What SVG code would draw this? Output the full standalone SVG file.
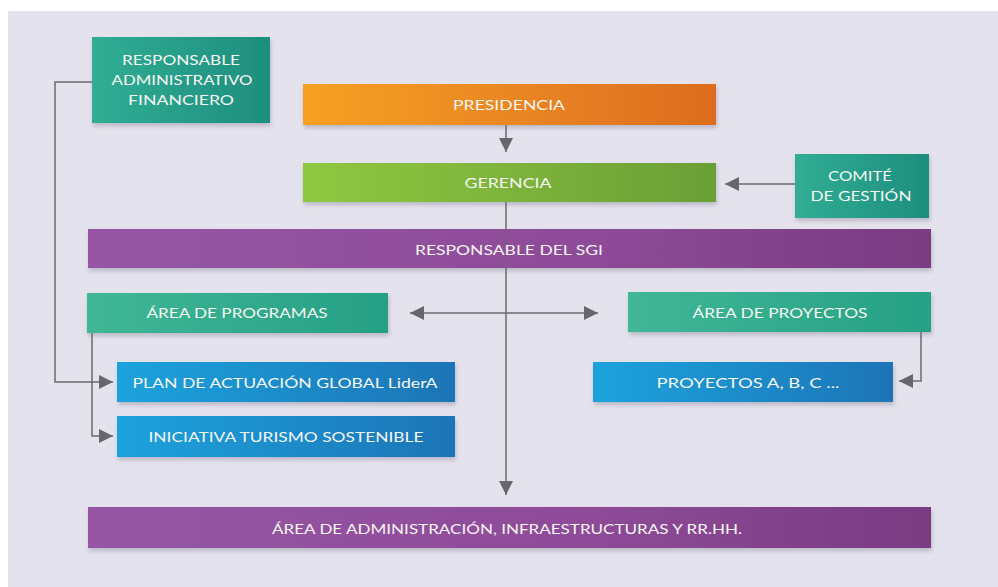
<svg xmlns="http://www.w3.org/2000/svg" width="998" height="587" viewBox="0 0 998 587">
<defs>
<linearGradient id="gTeal" x1="0" y1="0" x2="1" y2="0"><stop offset="0" stop-color="#31ad94"/><stop offset="1" stop-color="#1e8e7e"/></linearGradient>
<linearGradient id="gArea" x1="0" y1="0" x2="1" y2="0"><stop offset="0" stop-color="#40b796"/><stop offset="1" stop-color="#26a085"/></linearGradient>
<linearGradient id="gOrange" x1="0" y1="0" x2="1" y2="0"><stop offset="0" stop-color="#f6a123"/><stop offset="1" stop-color="#dd6c1f"/></linearGradient>
<linearGradient id="gGreen" x1="0" y1="0" x2="1" y2="0"><stop offset="0" stop-color="#8fc840"/><stop offset="1" stop-color="#6b9f36"/></linearGradient>
<linearGradient id="gPurple" x1="0" y1="0" x2="1" y2="0"><stop offset="0" stop-color="#9656a4"/><stop offset="0.6" stop-color="#8e4b98"/><stop offset="1" stop-color="#7a3b82"/></linearGradient>
<linearGradient id="gBlue" x1="0" y1="0" x2="1" y2="0"><stop offset="0" stop-color="#1ea3dd"/><stop offset="1" stop-color="#1a74b6"/></linearGradient>
<filter id="sh" x="-5%" y="-20%" width="110%" height="150%"><feDropShadow dx="1" dy="3" stdDeviation="2" flood-color="#6b6b80" flood-opacity="0.35"/></filter>
<marker id="ah" viewBox="0 0 10 10" refX="10" refY="5" markerWidth="14" markerHeight="14" markerUnits="userSpaceOnUse" orient="auto-start-reverse"><path d="M0,0 L10,5 L0,10 z" fill="#66666c"/></marker>
<style>
.t{font-family:"Lato","Open Sans","DejaVu Sans",sans-serif;font-size:14px;fill:#f6f6f2;text-anchor:middle;dominant-baseline:central}
.c{fill:none;stroke:#6a6a70;stroke-width:1.5}
</style>
</defs>
<rect x="0" y="0" width="998" height="587" fill="#ffffff"/>
<rect x="8" y="11" width="990" height="576" fill="#e4e2ec"/>

<g id="connectors">
<path class="c" d="M506,125 V152" marker-end="url(#ah)"/>
<path class="c" d="M795,184 H725" marker-end="url(#ah)"/>
<path class="c" d="M506,202 V495" marker-end="url(#ah)"/>
<path class="c" d="M410,313 H598" marker-start="url(#ah)" marker-end="url(#ah)"/>
<path class="c" d="M92,82 H55 V382 H113" marker-end="url(#ah)"/>
<path class="c" d="M92,333 V436 H113" marker-end="url(#ah)"/>
<path class="c" d="M921,332 V381 H899" marker-end="url(#ah)"/>
</g>

<g id="raf">
<rect x="92" y="37" width="178" height="86" fill="url(#gTeal)" filter="url(#sh)"/>
<text class="t" x="181" y="59" textLength="118" lengthAdjust="spacingAndGlyphs">RESPONSABLE</text>
<text class="t" x="182" y="79" textLength="141" lengthAdjust="spacingAndGlyphs">ADMINISTRATIVO</text>
<text class="t" x="181" y="99" textLength="106" lengthAdjust="spacingAndGlyphs">FINANCIERO</text>
</g>

<g id="presidencia">
<rect x="303" y="84" width="413" height="41" fill="url(#gOrange)" filter="url(#sh)"/>
<text class="t" x="509" y="104" textLength="112" lengthAdjust="spacingAndGlyphs">PRESIDENCIA</text>
</g>

<g id="gerencia">
<rect x="303" y="163" width="413" height="39" fill="url(#gGreen)" filter="url(#sh)"/>
<text class="t" x="508" y="182" textLength="87" lengthAdjust="spacingAndGlyphs">GERENCIA</text>
</g>

<g id="comite">
<rect x="795" y="154" width="134" height="64" fill="url(#gTeal)" filter="url(#sh)"/>
<text class="t" x="860" y="175" textLength="64" lengthAdjust="spacingAndGlyphs">COMITÉ</text>
<text class="t" x="861" y="195" textLength="101" lengthAdjust="spacingAndGlyphs">DE GESTIÓN</text>
</g>

<g id="sgi">
<rect x="88" y="229" width="843" height="39" fill="url(#gPurple)" filter="url(#sh)"/>
<path d="M506,229 V268" stroke="#6a6a70" stroke-width="1.2" opacity="0.6"/>
<text class="t" x="509" y="249" textLength="188" lengthAdjust="spacingAndGlyphs">RESPONSABLE DEL SGI</text>
</g>

<g id="area-programas">
<rect x="87" y="293" width="301" height="40" fill="url(#gArea)" filter="url(#sh)"/>
<text class="t" x="237" y="312" textLength="181" lengthAdjust="spacingAndGlyphs">ÁREA DE PROGRAMAS</text>
</g>

<g id="area-proyectos">
<rect x="628" y="292" width="303" height="40" fill="url(#gArea)" filter="url(#sh)"/>
<text class="t" x="780" y="312" textLength="175" lengthAdjust="spacingAndGlyphs">ÁREA DE PROYECTOS</text>
</g>

<g id="plan">
<rect x="117" y="362" width="338" height="40" fill="url(#gBlue)" filter="url(#sh)"/>
<text class="t" x="285" y="382" textLength="305" lengthAdjust="spacingAndGlyphs">PLAN DE ACTUACIÓN GLOBAL LiderA</text>
</g>

<g id="iniciativa">
<rect x="117" y="416" width="338" height="41" fill="url(#gBlue)" filter="url(#sh)"/>
<text class="t" x="286" y="436" textLength="275" lengthAdjust="spacingAndGlyphs">INICIATIVA TURISMO SOSTENIBLE</text>
</g>

<g id="proyectos">
<rect x="593" y="362" width="300" height="40" fill="url(#gBlue)" filter="url(#sh)"/>
<text class="t" x="748" y="382" textLength="183" lengthAdjust="spacingAndGlyphs">PROYECTOS A, B, C ...</text>
</g>

<g id="admin">
<rect x="88" y="507" width="843" height="41" fill="url(#gPurple)" filter="url(#sh)"/>
<text class="t" x="507" y="528" textLength="470" lengthAdjust="spacingAndGlyphs">ÁREA DE ADMINISTRACIÓN, INFRAESTRUCTURAS Y RR.HH.</text>
</g>
</svg>
